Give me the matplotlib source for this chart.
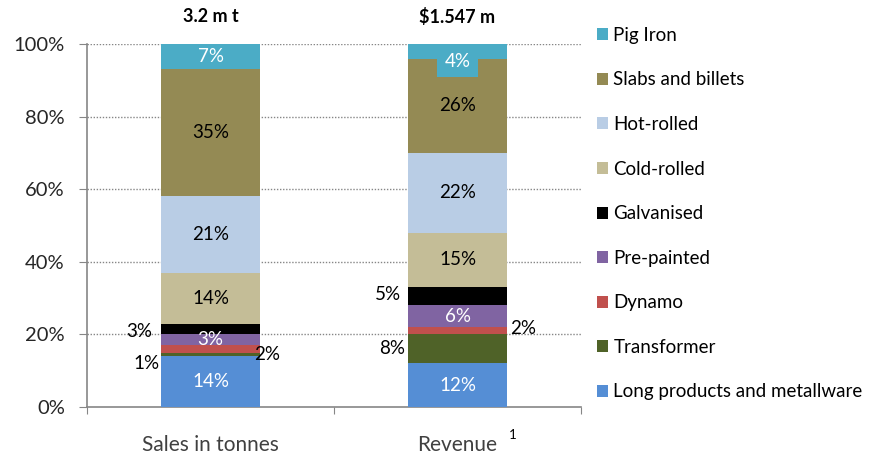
import matplotlib.pyplot as plt
import numpy as np

plt.rcParams["font.family"] = ["Lato", "DejaVu Sans"]

categories = ["Sales in tonnes", "Revenue"]
totals = ["3.2 m t", "$1.547 m"]
segments = ["Long products and metallware", "Transformer", "Dynamo", "Pre-painted",
            "Galvanised", "Cold-rolled", "Hot-rolled", "Slabs and billets", "Pig Iron"]
sales = [14, 1, 2, 3, 3, 14, 21, 35, 7]
revenue = [12, 8, 2, 6, 5, 15, 22, 26, 4]
colors = ["#558ED5", "#4F6228", "#C0504D", "#8064A2", "#000000",
          "#C4BD97", "#B9CDE5", "#948A54", "#4BACC6"]
white_text = {"Long products and metallware", "Pre-painted", "Pig Iron"}

fig = plt.figure(figsize=(8.77, 4.57), dpi=100)
ax = fig.add_axes([0.0992, 0.1094, 0.5633, 0.7943])

x = np.array([0.5, 1.5])
width = 0.4
data = np.array([sales, revenue]) / 100.0
bottoms = np.zeros(2)
bars = []
for i, name in enumerate(segments):
    b = ax.bar(x, data[:, i], width, bottom=bottoms, color=colors[i], label=name, zorder=3)
    bars.append(b)
    bottoms = bottoms + data[:, i]

# value labels
cum = np.cumsum(data, axis=1)
outside = {  # (bar index, segment index): (dx, dy, ha)
    (0, 1): (-0.208, -0.024, "right"),
    (0, 2): (0.176, -0.014, "left"),
    (0, 4): (-0.236, -0.006, "right"),
    (1, 1): (-0.212, 0.0, "right"),
    (1, 2): (0.212, 0.005, "left"),
    (1, 4): (-0.228, 0.004, "right"),
}
fs = 13.5
for bi in range(2):
    for si, name in enumerate(segments):
        v = data[bi, si]
        mid = cum[bi, si] - v / 2
        label = f"{int(round(v * 100))}%"
        if (bi, si) in outside:
            dx, dy, ha = outside[(bi, si)]
            ax.text(x[bi] + dx, mid + dy, label, ha=ha, va="center", fontsize=fs,
                    color="black", zorder=5)
        elif name == "Pig Iron" and bi == 1:
            ax.text(x[bi], 0.952, label, ha="center", va="center", fontsize=fs,
                    color="white", zorder=5,
                    bbox=dict(boxstyle="square,pad=0.38", facecolor=colors[si], edgecolor="none"))
        else:
            col = "white" if name in white_text else "black"
            ax.text(x[bi], mid, label, ha="center", va="center", fontsize=fs,
                    color=col, zorder=5)

for xi, t in zip(x, totals):
    ax.text(xi, 1.075, t, ha="center", va="center", fontsize=13, fontweight="bold")

ax.set_xlim(0, 2)
ax.set_ylim(0, 1)
ax.set_yticks([0, 0.2, 0.4, 0.6, 0.8, 1.0])
ax.set_yticklabels(["0%", "20%", "40%", "60%", "80%", "100%"], fontsize=14.5, color="#262626")
ax.set_xticks([0, 1, 2])
ax.set_xticklabels([])
ax.tick_params(axis="x", length=5, color="#868686", direction="out")
ax.tick_params(axis="y", length=6, color="#868686", direction="out", pad=10)
for xi, c in zip(x, categories):
    ax.text(xi, -0.104, c, ha="center", va="center", fontsize=15, color="#404040")
ax.text(x[1] + 0.225, -0.078, "1", ha="center", va="center", fontsize=9.5, color="black")

for y in [0.2, 0.4, 0.6, 0.8, 1.0]:
    ax.axhline(y, color="#868686", linestyle=(0, (1, 1.2)), linewidth=1.0, zorder=1)

for s in ["top", "right"]:
    ax.spines[s].set_visible(False)
for s in ["left", "bottom"]:
    ax.spines[s].set_color("#868686")
    ax.spines[s].set_linewidth(1.2)

handles = [b.patches[0] for b in bars][::-1]
labels = segments[::-1]
fig.legend(handles, labels, loc="upper left", bbox_to_anchor=(0.661, 0.978), frameon=False,
           fontsize=13.5, handlelength=0.6, handleheight=0.6, handletextpad=0.3,
           labelspacing=1.47)

fig.savefig("out.png", dpi=100)
